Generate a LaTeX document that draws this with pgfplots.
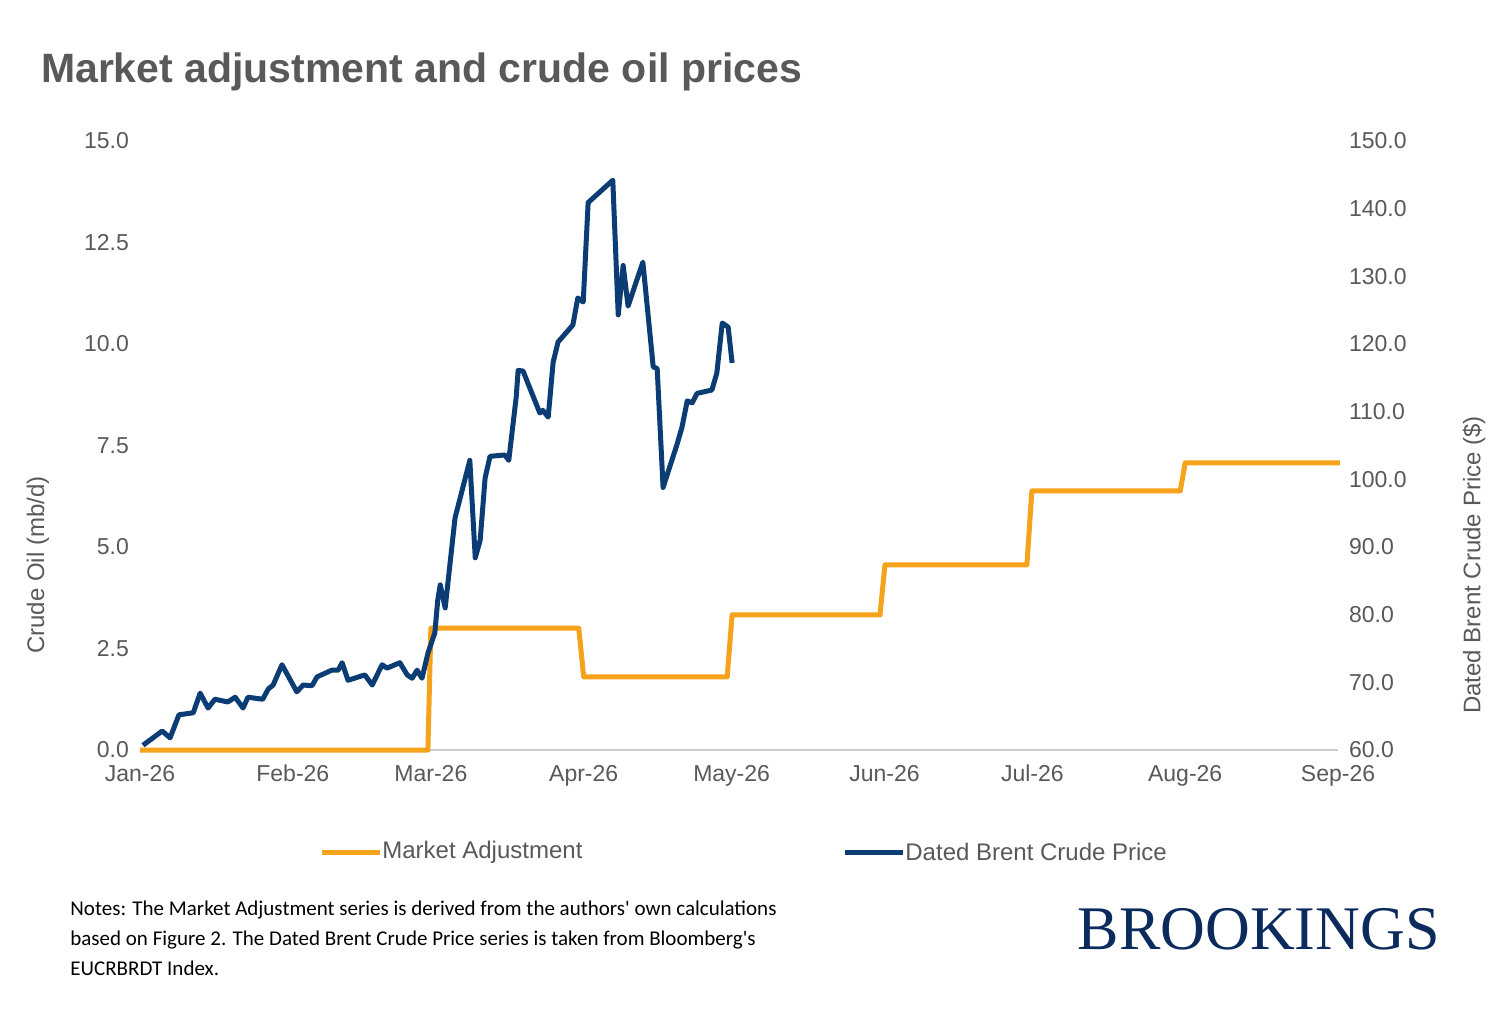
\documentclass[border=0pt]{standalone}
\usepackage{pgfplots}
\pgfplotsset{compat=1.18}
\usepackage{fontspec}
\setmainfont{Liberation Sans}
\newfontfamily\notefont{Carlito}
\newfontfamily\brfont{Liberation Serif}
\definecolor{morange}{HTML}{F7A21B}
\definecolor{mnavy}{HTML}{0B3D74}
\definecolor{tgray}{HTML}{595959}
\definecolor{bnavy}{HTML}{0A2B5C}
\begin{document}
\begin{tikzpicture}[x=1pt,y=1pt]
\path[use as bounding box,fill=white] (0,0) rectangle (750,509.5);
\node[anchor=base west,text=tgray,font=\fontsize{20.5}{24}\selectfont\bfseries] at (17,468) {Market adjustment and crude oil prices};
\pgfplotsset{base/.style={scale only axis,width=599pt,height=304.5pt,at={(70pt,134.5pt)},anchor=south west,
 xmin=0,xmax=243,clip=false,tick style={draw=none},
 ticklabel style={font=\fontsize{11.5}{13}\selectfont,text=tgray},
 /pgf/number format/assume math mode=true}}
\begin{axis}[base,ymin=0,ymax=15,ytick={0,2.5,...,15},
 yticklabel style={/pgf/number format/fixed,/pgf/number format/fixed zerofill,/pgf/number format/precision=1,xshift=-2pt},
 axis y line*=left,axis x line*=bottom,y axis line style={draw=none},x axis line style={draw=black!20,line width=0.8pt},
 xtick={0,31,59,90,120,151,181,212,243},
 xticklabels={Jan-26,Feb-26,Mar-26,Apr-26,May-26,Jun-26,Jul-26,Aug-26,Sep-26},
 xticklabel style={yshift=-4pt}]
\addplot[morange,line width=2.5pt,line join=round] coordinates {
(0,0) (58.4,0) (59.0,3.0) (89.0,3.0) (90.0,1.8) (119.1,1.8) (120.1,3.33)
(150.1,3.33) (151.1,4.56) (179.9,4.56) (180.9,6.38) (211,6.38) (212,7.07) (243.4,7.07)};
\end{axis}
\begin{axis}[base,ymin=60,ymax=150,ytick={60,70,...,150},
 yticklabel style={/pgf/number format/fixed,/pgf/number format/fixed zerofill,/pgf/number format/precision=1,xshift=2pt},
 axis y line*=right,axis x line=none,y axis line style={draw=none}]
\addplot[mnavy,line width=2.5pt,line join=round] coordinates {
(0.6,60.7) (4.5,62.8) (6.1,61.8) (7.9,65.2) (10.8,65.5) (12.2,68.4) (13.8,66.2) (15.2,67.5)
(17.8,67.1) (19.3,67.8) (20.9,66.2) (21.9,67.8) (24.9,67.5) (26.0,69.0) (27.0,69.6) (28.8,72.6)
(31.8,68.6) (33.1,69.6) (34.9,69.5) (35.9,70.8) (38.9,71.8) (40.2,71.8) (41.0,72.9) (42.2,70.3)
(45.6,71.1) (47.1,69.6) (49.1,72.6) (50.1,72.1) (52.7,72.9) (54.2,71.1) (55.2,70.6) (56.2,71.8)
(57.2,70.6) (58.4,74.3) (59.8,77.3) (60.4,82.2) (60.9,84.4) (61.9,81.0) (63.9,94.3) (66.9,102.8)
(68.0,88.4) (69.0,91.0) (70.0,100.2) (71.0,103.4) (74.0,103.6) (74.8,102.8) (76.3,112.1) (76.7,116.1)
(77.7,116.0) (81.1,109.8) (81.7,110.2) (82.8,109.2) (83.8,117.3) (84.8,120.3) (87.8,122.8) (88.8,126.8)
(89.9,126.2) (90.9,140.9) (95.9,144.2) (97.0,124.3) (98.0,131.6) (99.0,125.6) (102.0,132.1) (104.1,116.6)
(104.9,116.4) (106.1,98.8) (108.9,105.1) (109.9,107.6) (111.0,111.6) (112.0,111.3) (113.0,112.7) (116.0,113.2)
(117.0,115.7) (118.1,123.1) (119.3,122.5) (120.1,117.2)};
\end{axis}
\node[rotate=90,text=tgray,font=\fontsize{12}{14}\selectfont] at (19,227) {Crude Oil (mb/d)};
\node[rotate=90,text=tgray,font=\fontsize{12}{14}\selectfont] at (737,227) {Dated Brent Crude Price (\$)};
\draw[morange,line width=2.5pt] (161,83.5) -- (190,83.5);
\node[anchor=west,inner sep=0pt,text=tgray,font=\fontsize{12}{14}\selectfont] at (191,83.5) {Market Adjustment};
\draw[mnavy,line width=2.5pt] (422.5,83.5) -- (451.5,83.5);
\node[anchor=west,inner sep=0pt,text=tgray,font=\fontsize{12}{14}\selectfont] at (452.5,83.5) {Dated Brent Crude Price};
\node[anchor=north west,align=left,inner sep=0pt,font=\notefont\fontsize{10.5}{15}\selectfont] at (35,59) {Notes: The Market Adjustment series is derived from the authors' own calculations\\based on Figure 2. The Dated Brent Crude Price series is taken from Bloomberg's\\EUCRBRDT Index.};
\node[anchor=base east,inner sep=0pt,text=bnavy,font=\brfont\fontsize{31}{34}\selectfont] at (720,35) {BROOKINGS};
\end{tikzpicture}
\end{document}
